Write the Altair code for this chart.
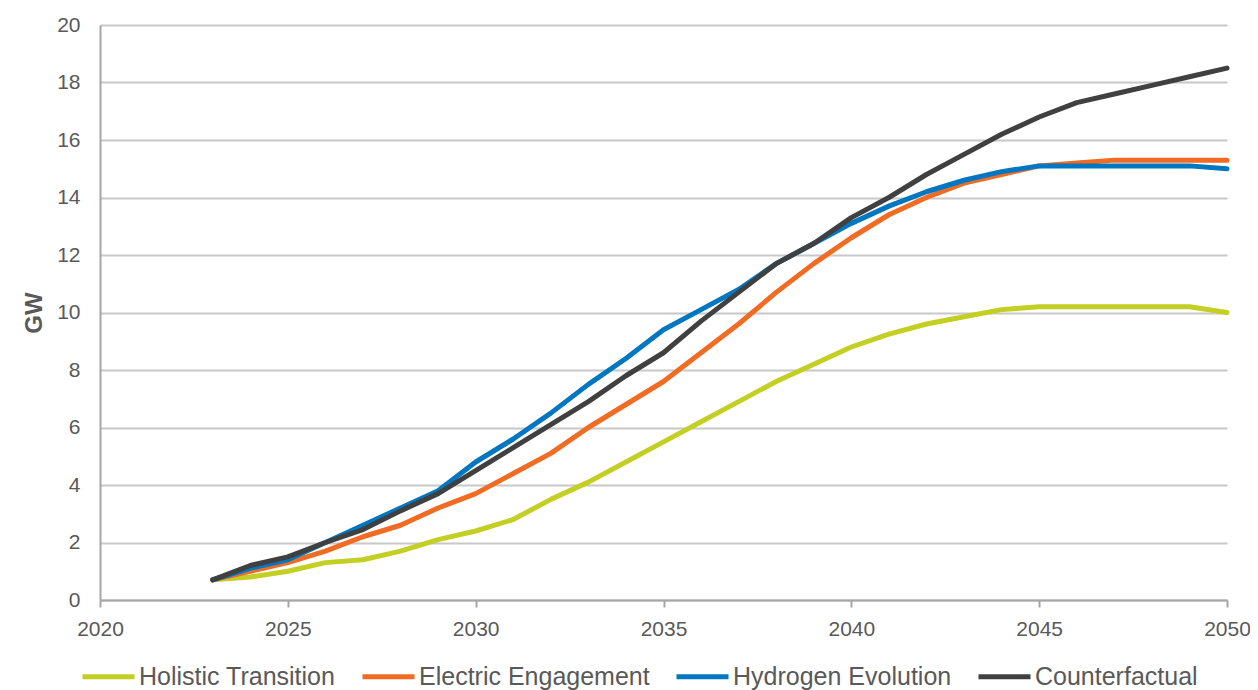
import altair as alt
import pandas as pd

years = list(range(2023, 2051))
series_names = ["Holistic Transition", "Electric Engagement", "Hydrogen Evolution", "Counterfactual"]
colors = ["#C3CF22", "#F26B23", "#0077C0", "#404040"]

holistic = [0.7, 0.8, 1.0, 1.3, 1.4, 1.7, 2.1, 2.4, 2.8, 3.5, 4.1, 4.8, 5.5, 6.2, 6.9, 7.6,
            8.2, 8.8, 9.25, 9.6, 9.85, 10.1, 10.2, 10.2, 10.2, 10.2, 10.2, 10.0]
electric = [0.7, 1.0, 1.3, 1.7, 2.2, 2.6, 3.2, 3.7, 4.4, 5.1, 6.0, 6.8, 7.6, 8.6, 9.6, 10.7,
            11.7, 12.6, 13.4, 14.0, 14.5, 14.8, 15.1, 15.2, 15.3, 15.3, 15.3, 15.3]
hydrogen = [0.7, 1.1, 1.4, 2.0, 2.6, 3.2, 3.8, 4.8, 5.6, 6.5, 7.5, 8.4, 9.4, 10.1, 10.8, 11.7,
            12.4, 13.1, 13.7, 14.2, 14.6, 14.9, 15.1, 15.1, 15.1, 15.1, 15.1, 15.0]
counterfactual = [0.7, 1.2, 1.5, 2.0, 2.45, 3.1, 3.7, 4.5, 5.3, 6.1, 6.9, 7.8, 8.6, 9.7, 10.7, 11.7,
                  12.4, 13.3, 14.0, 14.8, 15.5, 16.2, 16.8, 17.3, 17.6, 17.9, 18.2, 18.5]

x_ticks = [2020, 2025, 2030, 2035, 2040, 2045, 2050]
y_ticks = [0, 2, 4, 6, 8, 10, 12, 14, 16, 18, 20]

rows = []
for name, vals in zip(series_names, [holistic, electric, hydrogen, counterfactual]):
    for yr, v in zip(years, vals):
        rows.append({"year": yr, "value": v, "series": name})
df = pd.DataFrame(rows)

FONT = "Liberation Sans, Arial, Helvetica, sans-serif"
TXT = "#595959"

chart = alt.Chart(df).mark_line(strokeWidth=5, strokeCap="round", strokeJoin="round").encode(
    x=alt.X("year:Q",
            scale=alt.Scale(domain=[2020, 2050], nice=False, zero=False),
            axis=alt.Axis(values=x_ticks, format="d", title=None, grid=False,
                          domainColor="#a6a6a6", domainWidth=2,
                          tickColor="#a6a6a6", tickWidth=2, tickSize=7,
                          labelFontSize=21, labelColor=TXT, labelFont=FONT,
                          labelPadding=11, labelFlush=False)),
    y=alt.Y("value:Q",
            scale=alt.Scale(domain=[0, 20], nice=False),
            axis=alt.Axis(values=y_ticks, title="GW", grid=True,
                          gridColor="#c8c8c8", gridWidth=2,
                          domainColor="#a6a6a6", domainWidth=2, ticks=False,
                          labelFontSize=21, labelColor=TXT, labelFont=FONT,
                          labelPadding=20,
                          titleFontSize=24, titleFontWeight="bold", titleColor=TXT,
                          titleFont=FONT, titlePadding=10)),
    color=alt.Color("series:N",
                    scale=alt.Scale(domain=series_names, range=colors),
                    sort=series_names,
                    legend=alt.Legend(orient="none", legendX=-20, legendY=623,
                                      direction="horizontal", title=None,
                                      symbolType="stroke", symbolSize=2704,
                                      symbolStrokeWidth=5,
                                      labelFontSize=25, labelColor=TXT, labelFont=FONT,
                                      labelOffset=2, labelLimit=400,
                                      columnPadding=16, padding=0)),
).properties(
    width=1127, height=575,
    autosize=alt.AutoSizeParams(type="none"),
    padding={"left": 92, "top": 17, "right": 23, "bottom": 90},
).configure_view(stroke=None)

chart.save("out.html", embed_options={"renderer": "svg", "actions": False})
